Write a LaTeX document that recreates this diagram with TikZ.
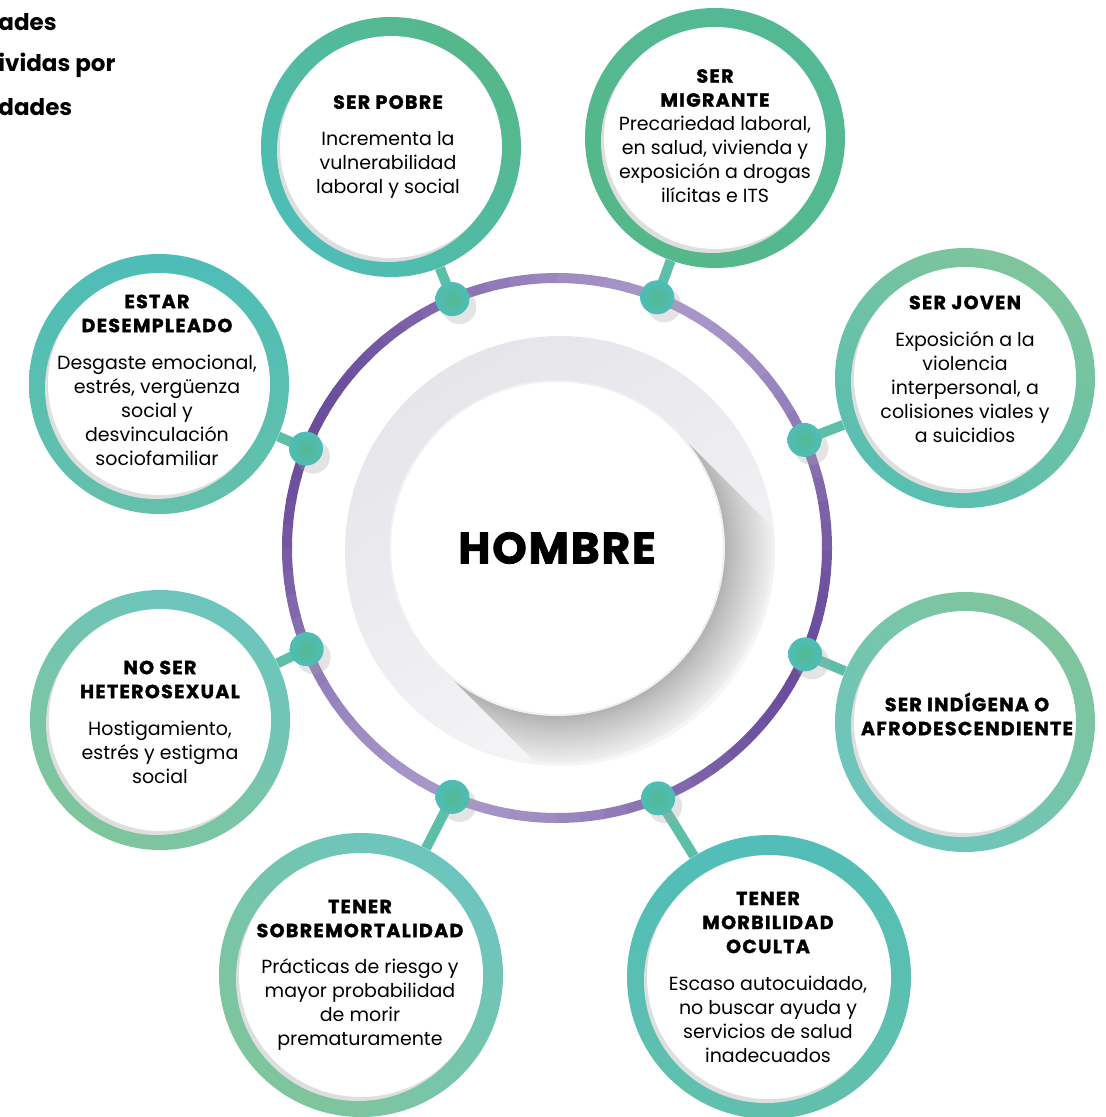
\documentclass[tikz,border=0pt]{standalone}
\usepackage{fontspec}
\setmainfont{Poppins}
\newfontfamily\headfont{Poppins}[LetterSpace=7, BoldFeatures={FakeBold=1.6}]
\newfontfamily\hubfont{Poppins}[LetterSpace=4, BoldFeatures={FakeBold=1.8}]
\usetikzlibrary{positioning, calc}

\definecolor{grnA}{HTML}{55B88A}
\definecolor{tealA}{HTML}{4EBDB7}
\definecolor{tealB}{HTML}{6CC5BE}
\definecolor{mintA}{HTML}{7FC59C}
\definecolor{stalkc}{HTML}{5EBFA8}
\definecolor{purpD}{HTML}{6A4C9C}
\definecolor{purpL}{HTML}{A796C8}
\definecolor{plateA}{HTML}{E5E5EA}
\definecolor{plateB}{HTML}{F6F6F8}

\newcommand{\headtxt}[1]{{\headfont\bfseries #1}}
\pgfdeclareradialshading{hubshadow}{\pgfpoint{0bp}{0bp}}{color(0bp)=(black!33); color(19bp)=(black!33); color(20.5bp)=(black!25); color(25bp)=(black!6); color(50bp)=(black!6)}

\begin{document}
\begin{tikzpicture}[x=0.5pt, y=-0.5pt,
  bubble/.style={circle, minimum size=130pt, inner sep=0pt},
  stalk/.style={line width=5pt, stalkc},
  dot/.style={circle, minimum size=17pt, inner sep=0pt, inner color=grnA!85!tealA, outer color=tealA},
  txt/.style={align=center, font=\fontsize{9.5}{12}\selectfont},
  title/.style={anchor=west, inner sep=0pt, font=\fontsize{11.5}{12}\selectfont\bfseries}]
\fill[white, use as bounding box] (0,0) rectangle (1105,1117);

% cut title at the top left
\node[title] at (-2,22) {ades};
\node[title] at (-2,65) {ividas por};
\node[title] at (-2,107) {dades};

% centre plate and long shadow
\shade[top color=plateA, bottom color=plateB, shading angle=30] (560,551) circle[radius=215];
\begin{scope}
\clip (560,551) circle[radius=215];
\clip (675,430) -- (975,730) -- (739,966) -- (439,666) -- cycle;
\shade[shading=hubshadow] (557,548) circle[radius=215];
\end{scope}
\node[circle, fill=white, draw=black!6, line width=1pt, minimum size=167pt,
  font=\hubfont\bfseries\fontsize{22}{24}\selectfont] (hub) at (557,548) {HOMBRE};

% purple ring
\foreach \a in {0,5,...,355}{
  \pgfmathtruncatemacro\p{50+50*cos(2*(\a+2.5-25))}
  \draw[line width=5pt, purpD!\p!purpL] ($(hub)+(\a:270)$) arc[start angle=\a, delta angle=5.5, radius=270];
}

% outer circles
\node[bubble, top color=grnA, bottom color=tealA, shading angle=-45] (pobre) at (391,147) {};
\node[bubble, top color=grnA!75!tealA, bottom color=grnA, shading angle=-40] (migrante) at (715,138) {};
\node[bubble, top color=mintA, bottom color=tealA!80!mintA, shading angle=-30] (joven) at (965,378) {};
\node[bubble, top color=mintA, bottom color=tealB, shading angle=-40] (indigena) at (965,722) {};
\node[bubble, minimum size=142pt, top color=tealA!90!tealB, bottom color=tealA!60!mintA, shading angle=10] (morbilidad) at (769,977) {};
\node[bubble, minimum size=142pt, top color=tealB, bottom color=mintA, shading angle=-40] (sobremort) at (361,975) {};
\node[bubble, top color=tealB, bottom color=mintA, shading angle=-30] (noser) at (160,720) {};
\node[bubble, top color=tealA, bottom color=tealA!55!mintA, shading angle=0] (desempleo) at (159,384) {};

\foreach \n/\r in {pobre/111,migrante/111,joven/111,indigena/111,morbilidad/122,sobremort/122,noser/111,desempleo/111}{
  \fill[black!13] ($(\n)+(-3,4)$) circle[radius=\r];
  \fill[white] (\n) circle[radius=\r];
}

% stalks and dots
\foreach \n/\k/\w in {pobre/1/247.2,migrante/2/291.8,joven/3/336.4,indigena/4/23.2,morbilidad/5/68,sobremort/6/112.8,noser/7/158,desempleo/8/201.6}{
  \coordinate (p\k) at ($(hub)+(\w:270)$);
  \draw[stalk] (p\k) -- (\n);
}
\foreach \k in {1,...,8}{
  \fill[black!35, opacity=.3] ($(p\k)+(7,8)$) circle[radius=17];
  \node[dot] (dot\k) at (p\k) {};
}

% texts
\node[txt] (tpobre) at (388,147) {\headtxt{SER POBRE}\\[6.5pt]Incrementa la\\vulnerabilidad\\laboral y social};
\node[txt] (tmigrante) at (715,136) {\headtxt{SER}\\\headtxt{MIGRANTE}\\Precariedad laboral,\\en salud, vivienda y\\exposición a drogas\\ilícitas e ITS};
\node[txt] (tjoven) at (965,369) {\headtxt{SER JOVEN}\\[6.5pt]Exposición a la\\violencia\\interpersonal, a\\colisiones viales y\\a suicidios};
\node[txt] (tindigena) at (967,714) {\headtxt{SER INDÍGENA O}\\\headtxt{AFRODESCENDIENTE}};
\node[txt] (tmorbilidad) at (768,977) {\headtxt{TENER}\\\headtxt{MORBILIDAD}\\\headtxt{OCULTA}\\[6.5pt]Escaso autocuidado,\\no buscar ayuda y\\servicios de salud\\inadecuados};
\node[txt] (tsobremort) at (360,975) {\headtxt{TENER}\\\headtxt{SOBREMORTALIDAD}\\[6pt]Prácticas de riesgo y\\mayor probabilidad\\de morir\\prematuramente};
\node[txt] (tnoser) at (160,722) {\headtxt{NO SER}\\\headtxt{HETEROSEXUAL}\\[6.5pt]Hostigamiento,\\estrés y estigma\\social};
\node[txt] (tdesempleo) at (157,380) {\headtxt{ESTAR}\\\headtxt{DESEMPLEADO}\\[6.5pt]Desgaste emocional,\\estrés, vergüenza\\social y\\desvinculación\\sociofamiliar};
\end{tikzpicture}
\end{document}
